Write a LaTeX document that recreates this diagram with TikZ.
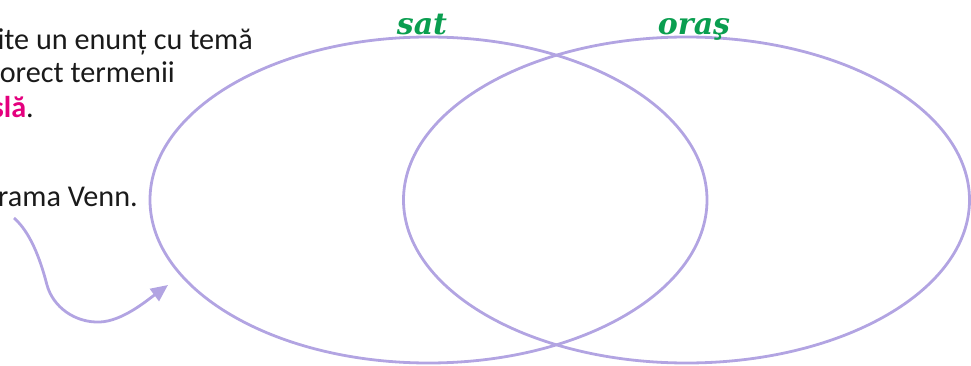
\documentclass[tikz,border=0pt]{standalone}
\usepackage{fontspec}
\setmainfont{Carlito}
\newfontfamily\titlefont{DejaVu Serif}
\usepackage{xcolor}
\usetikzlibrary{arrows.meta, positioning, shapes.geometric}

\definecolor{vennline}{RGB}{178,164,226}
\definecolor{setgreen}{RGB}{10,158,80}
\definecolor{keypink}{RGB}{228,0,126}
\definecolor{bodytext}{RGB}{26,26,26}

\begin{document}
\begin{tikzpicture}[
    x=1pt, y=-1pt,
    venn/.style={ellipse, draw=vennline, line width=2.8pt, inner sep=0pt},
    setlabel/.style={font=\titlefont\bfseries\itshape\fontsize{30}{30}\selectfont, text=setgreen, anchor=base},
    body/.style={font=\fontsize{30.2}{33}\selectfont, text=bodytext, anchor=base east, inner sep=0pt},
    pointer/.style={-{Triangle[length=17pt, width=15pt]}, draw=vennline, line width=2.8pt}
]
\useasboundingbox (0,0) rectangle (971,366);

% Task text (cut at the left edge)
\node[body] (line1) at (253,50) {ite un enunț cu temă};
\node[body] (line2) at (175,83) {orect termenii};
\node[body] (line3) at (34,118) {\textbf{\textcolor{keypink}{slă}}.};
\node[body] (line4) at (138,206) {rama Venn.};

% Venn diagram
\node[venn, minimum width=557, minimum height=326] (sat) at (428.5,200) {};
\node[venn, minimum width=566, minimum height=326] (oras) at (686.5,200) {};

% Set names
\node[setlabel] (satname) at (422,35) {sat};
\node[setlabel] (orasname) at (694,35) {oraş};

% Arrow from the text to the diagram
\coordinate (from) at (14,218);
\coordinate (to) at (168,285);
\draw[pointer] (from) .. controls (30,232) and (40,258) .. (47,285)
    .. controls (53,307) and (75,323) .. (100,322)
    .. controls (122,321) and (145,302) .. (to);

\end{tikzpicture}
\end{document}
